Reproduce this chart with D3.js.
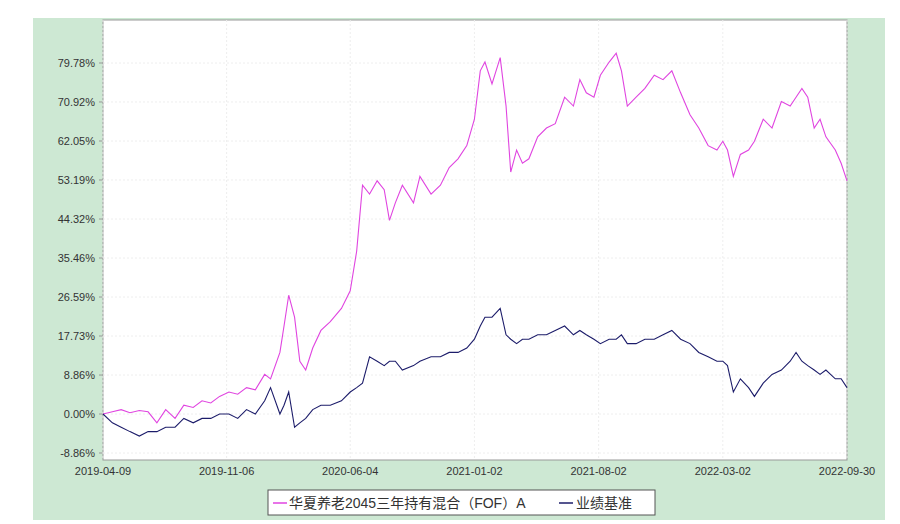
<!DOCTYPE html>
<html><head><meta charset="utf-8">
<script src="https://cdn.jsdelivr.net/npm/d3@7"></script>
<style>body{margin:0;background:#fff}svg{display:block}text{font-family:"Liberation Sans","Noto Sans CJK SC",sans-serif}</style>
</head><body><svg id="c" width="900" height="524"></svg>
<script>
const dates=["2019-04-09","2019-04-25","2019-05-10","2019-05-25","2019-06-10","2019-06-25","2019-07-10","2019-07-25","2019-08-10","2019-08-25","2019-09-10","2019-09-25","2019-10-10","2019-10-25","2019-11-10","2019-11-25","2019-12-10","2019-12-25","2020-01-10","2020-01-20","2020-02-05","2020-02-12","2020-02-20","2020-03-01","2020-03-10","2020-03-20","2020-04-01","2020-04-15","2020-05-01","2020-05-20","2020-06-04","2020-06-15","2020-06-25","2020-07-07","2020-07-20","2020-08-01","2020-08-10","2020-08-20","2020-09-01","2020-09-20","2020-10-01","2020-10-20","2020-11-05","2020-11-20","2020-12-05","2020-12-20","2021-01-02","2021-01-12","2021-01-20","2021-02-01","2021-02-15","2021-02-25","2021-03-05","2021-03-15","2021-03-25","2021-04-05","2021-04-20","2021-05-05","2021-05-20","2021-06-05","2021-06-20","2021-07-01","2021-07-12","2021-07-25","2021-08-05","2021-08-20","2021-09-01","2021-09-10","2021-09-20","2021-10-05","2021-10-20","2021-11-05","2021-11-20","2021-12-05","2021-12-20","2022-01-05","2022-01-20","2022-02-05","2022-02-20","2022-03-02","2022-03-10","2022-03-20","2022-04-01","2022-04-15","2022-04-25","2022-05-10","2022-05-25","2022-06-10","2022-06-25","2022-07-05","2022-07-15","2022-07-25","2022-08-05","2022-08-15","2022-08-25","2022-09-10","2022-09-20","2022-09-30"];
const fund=[0,0.5,1,0.3,0.8,0.5,-2,1,-1,2,1.5,3,2.5,4,5,4.5,6,5.5,9,8,14,20,27,22,12,10,15,19,21,24,28,37,52,50,53,51,44,48,52,48,54,50,52,56,58,61,67,78,80,75,81,70,55,60,57,58,63,65,66,72,70,76,73,72,77,80,82,78,70,72,74,77,76,78,73,68,65,61,60,62,60,54,59,60,62,67,65,71,70,72,74,72,65,67,63,60,57,53];
const bench=[0,-2,-3,-4,-5,-4,-4,-3,-3,-1,-2,-1,-1,0,0,-1,1,0,3,6,0,2,5,-3,-2,-1,1,2,2,3,5,6,7,13,12,11,12,12,10,11,12,13,13,14,14,15,17,20,22,22,24,18,17,16,17,17,18,18,19,20,18,19,18,17,16,17,17,18,16,16,17,17,18,19,17,16,14,13,12,12,11,5,8,6,4,7,9,10,12,14,12,11,10,9,10,8,8,6];
const yTicks=[-8.86,0,8.86,17.73,26.59,35.46,44.32,53.19,62.05,70.92,79.78];
const xTicks=["2019-04-09","2019-11-06","2020-06-04","2021-01-02","2021-08-02","2022-03-02","2022-09-30"];
const names=["华夏养老2045三年持有混合（FOF）A","业绩基准"];
const colors=["#e045e0","#1c1c6a"];

const svg=d3.select("#c");
svg.append("rect").attr("x",33).attr("y",18).attr("width",852).attr("height",502).attr("fill","#cde8d3");
const L=103,R=847,T=20,B=460;
const p=d3.timeParse("%Y-%m-%d");
const x=d3.scaleTime().domain([p(dates[0]),p(dates[dates.length-1])]).range([L,R]);
const y=d3.scaleLinear().domain([-8.86,79.78]).range([453,63]);
svg.append("rect").attr("x",L).attr("y",T).attr("width",R-L).attr("height",B-T).attr("fill","#fff").attr("stroke","#999");
const g=svg.append("g");
yTicks.forEach(t=>{g.append("line").attr("x1",L).attr("x2",R).attr("y1",y(t)).attr("y2",y(t)).attr("stroke","#eeeeee").attr("stroke-dasharray","2,2");
 g.append("line").attr("x1",L-4).attr("x2",L).attr("y1",y(t)).attr("y2",y(t)).attr("stroke","#999");
 g.append("text").attr("x",L-8).attr("y",y(t)+4).attr("text-anchor","end").attr("font-size",11).attr("fill","#333").text(t.toFixed(2)+"%");});
xTicks.forEach(t=>{const xx=x(p(t));g.append("line").attr("x1",xx).attr("x2",xx).attr("y1",T).attr("y2",B).attr("stroke","#eeeeee").attr("stroke-dasharray","2,2");
 g.append("text").attr("x",xx).attr("y",B+15).attr("text-anchor","middle").attr("font-size",11).attr("fill","#333").text(t);});
const line=d3.line().x((d,i)=>x(p(dates[i]))).y(d=>y(d));
[fund,bench].forEach((s,k)=>svg.append("path").datum(s).attr("d",line).attr("fill","none").attr("stroke",colors[k]).attr("stroke-width",1.1));
const lg=svg.append("g");
lg.append("rect").attr("x",268).attr("y",490).attr("width",387).attr("height",25).attr("fill","#fff").attr("stroke","#555");
lg.append("line").attr("x1",273).attr("x2",287).attr("y1",503).attr("y2",503).attr("stroke",colors[0]).attr("stroke-width",1.5);
lg.append("text").attr("x",289).attr("y",508).attr("font-size",14).attr("fill","#333").text(names[0]);
lg.append("line").attr("x1",559).attr("x2",573).attr("y1",503).attr("y2",503).attr("stroke",colors[1]).attr("stroke-width",1.5);
lg.append("text").attr("x",576).attr("y",508).attr("font-size",14).attr("fill","#333").text(names[1]);
</script></body></html>
